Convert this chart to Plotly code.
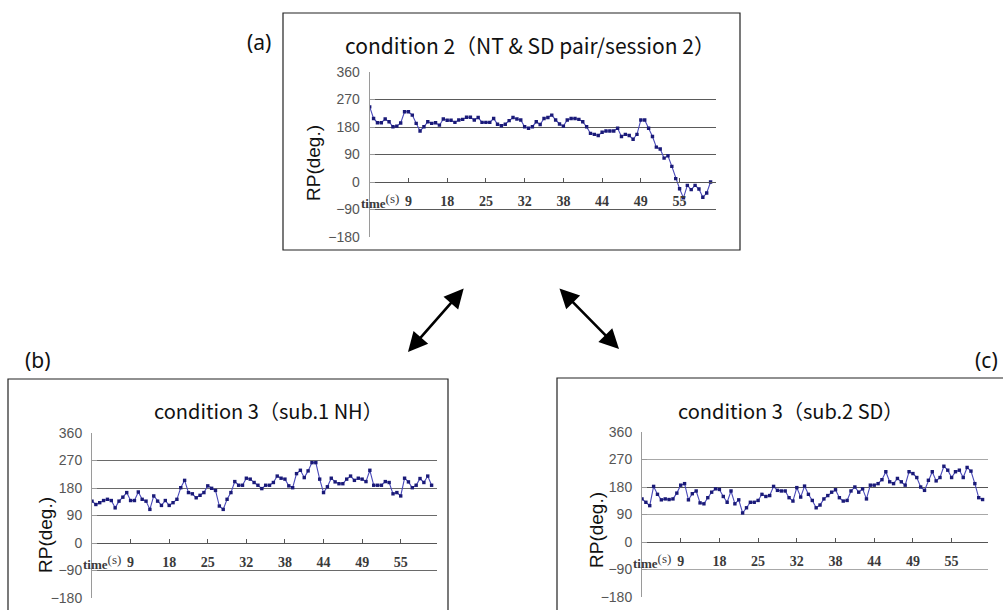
import plotly.graph_objects as go

W, H = 1003, 610

# ---------------- data ----------------
tick_labels = ["9", "18", "25", "32", "38", "44", "49", "55"]
tick_index = [10, 20, 30, 40, 50, 60, 70, 80]

rp_a = [246, 208, 194, 194, 206, 197, 181, 183, 193, 230, 230, 219, 192, 167, 181, 197,
        192, 194, 186, 206, 202, 202, 195, 203, 205, 212, 212, 203, 211, 195, 195, 195,
        208, 189, 184, 189, 201, 211, 206, 203, 181, 176, 181, 197, 188, 208, 211, 219,
        203, 190, 183, 203, 208, 208, 205, 197, 181, 159, 156, 152, 163, 167, 167, 167,
        176, 149, 156, 152, 140, 156, 203, 203, 176, 149, 114, 108, 78, 86, 51, 11,
        -22, -52, -11, -25, -11, -23, -50, -36, 0]

rp_b = [137, 126, 132, 139, 143, 139, 115, 137, 150, 165, 139, 139, 167, 143, 137, 110,
        154, 137, 123, 139, 123, 132, 143, 181, 205, 165, 161, 148, 156, 165, 187, 179,
        172, 121, 110, 143, 165, 201, 189, 189, 212, 209, 198, 189, 178, 189, 189, 198,
        219, 212, 209, 187, 181, 227, 238, 214, 236, 263, 263, 209, 165, 184, 212, 200,
        194, 194, 209, 219, 205, 212, 209, 201, 238, 189, 189, 189, 201, 198, 161, 165,
        154, 212, 200, 181, 189, 211, 198, 219, 189]

rp_c = [141, 130, 119, 182, 156, 138, 141, 139, 141, 160, 186, 191, 138, 158, 167, 128,
        125, 145, 163, 174, 172, 149, 130, 167, 125, 138, 95, 112, 130, 130, 136, 156,
        149, 152, 182, 169, 167, 167, 145, 134, 178, 147, 183, 156, 136, 112, 121, 141,
        152, 163, 171, 145, 134, 136, 167, 180, 163, 174, 141, 186, 186, 191, 204, 230,
        197, 191, 208, 197, 186, 230, 224, 211, 180, 169, 202, 230, 200, 211, 248, 235,
        211, 230, 235, 211, 244, 232, 191, 145, 139]

titles = ["condition 2（NT & SD pair/session 2）",
          "condition 3（sub.1 NH）",
          "condition 3（sub.2 SD）"]
panel_tags = ["(a)", "(b)", "(c)"]
y_ticks = [-180, -90, 0, 90, 180, 270, 360]

# ---------------- layout helpers ----------------
def px(x):
    return x / W

def py(y):
    return 1 - y / H

# plot areas in pixels: (left, right, top(360), bottom(-180))
areas = [(369.7, 716, 72, 237), (92, 437, 433, 598), (642, 988, 432, 597)]
boxes = [(283, 740, 13, 250), (8, 448, 379, 640), (557, 1010, 378, 640)]
title_pos = [(530, 45), (268, 411), (790, 411)]
title_sizes = [21, 20, 20]
tag_pos = [(259, 42), (38, 360), (986, 360)]
rp_label_pos = [(313, 163), (45, 535), (596, 530)]
grid_colors = ["#5a5a5a", "#6a6a6a", "#a8a8a8"]

series = [rp_a, rp_b, rp_c]

fig = go.Figure()
layout = dict(
    width=W, height=H, margin=dict(l=0, r=0, t=0, b=0, pad=0), autosize=False,
    paper_bgcolor="white", plot_bgcolor="rgba(0,0,0,0)", showlegend=False,
)
annotations = []
shapes = []

for i, (vals, area) in enumerate(zip(series, areas)):
    n = i + 1
    xa = "x" if n == 1 else f"x{n}"
    ya = "y" if n == 1 else f"y{n}"
    xkey = "xaxis" if n == 1 else f"xaxis{n}"
    ykey = "yaxis" if n == 1 else f"yaxis{n}"
    l, r, t, b = area
    yd = [py(b), py(t)]
    zero_pos = yd[0] + (0 - (-180)) / 540 * (yd[1] - yd[0])

    fig.add_trace(go.Scatter(
        x=list(range(len(vals))), y=vals, xaxis=xa, yaxis=ya,
        mode="lines+markers",
        line=dict(color="#4848b8", width=1.1),
        marker=dict(color="#1a1a78", size=3.4, symbol="square"),
        hoverinfo="skip",
    ))

    layout[xkey] = dict(
        domain=[px(l), px(r)], range=[0, 89.4], anchor="free", position=zero_pos,
        showline=True, linecolor="#555555", linewidth=1.2,
        showgrid=False, zeroline=False, automargin=False,
        tickmode="array", tickvals=tick_index, ticktext=tick_labels,
        ticks="inside", ticklen=4, tickcolor="#555555",
        ticklabelstandoff=6,
        tickfont=dict(family="Liberation Serif", size=14, color="#3a3a3a", weight="bold"),
        fixedrange=True,
    )
    layout[ykey] = dict(
        domain=yd, range=[-180, 360], anchor=xa,
        showline=True, linecolor="#9a9a9a", linewidth=1,
        showgrid=True, gridcolor=grid_colors[i], gridwidth=1.2,
        zeroline=False, automargin=False,
        tickmode="array", tickvals=y_ticks,
        ticks="inside", ticklen=5, tickcolor="#9a9a9a",
        ticklabelstandoff=6,
        tickfont=dict(family="Liberation Sans", size=14, color="#555555"),
        fixedrange=True,
    )
    if i == 2:
        # darker reference line at 180 in panel (c)
        layout["yaxis4"] = dict(
            domain=yd, range=[-180, 360], anchor=xa, overlaying="y3",
            showgrid=True, gridcolor="#555555", gridwidth=1.2,
            tickmode="array", tickvals=[180], showticklabels=False,
            zeroline=False, showline=False, fixedrange=True, automargin=False,
        )
        fig.add_trace(go.Scatter(x=[], y=[], xaxis="x3", yaxis="y4"))

    # time(s) label at the axis origin
    annotations.append(dict(
        xref="paper", yref="paper", x=px(l - 11), y=zero_pos, yshift=-19,
        xanchor="left", yanchor="middle", showarrow=False,
        text="time<sup><span style='font-size:13px;font-weight:normal'>(s)</span></sup>",
        font=dict(family="Liberation Serif", size=13, color="#3a3a3a", weight="bold"),
    ))
    # RP(deg.) axis title
    rx, ry = rp_label_pos[i]
    annotations.append(dict(
        xref="paper", yref="paper", x=px(rx), y=py(ry), textangle=-90,
        xanchor="center", yanchor="middle",
        showarrow=False, text="RP(deg.)",
        font=dict(family="Liberation Sans", size=19, color="#111111"),
    ))
    # panel title
    tx, ty = title_pos[i]
    annotations.append(dict(
        xref="paper", yref="paper", x=px(tx), y=py(ty), showarrow=False,
        xanchor="center", yanchor="middle",
        text=titles[i], font=dict(family="Noto Sans CJK JP", size=title_sizes[i], color="#111111"),
    ))
    # panel tag
    gx, gy = tag_pos[i]
    annotations.append(dict(
        xref="paper", yref="paper", x=px(gx), y=py(gy), showarrow=False,
        xanchor="center", yanchor="middle",
        text=panel_tags[i], font=dict(family="Noto Sans", size=21, color="#111111"),
    ))
    # panel frame
    bl, br, bt, bb = boxes[i]
    shapes.append(dict(type="rect", xref="paper", yref="paper",
                       x0=px(bl), x1=px(br), y0=py(bb), y1=py(bt),
                       line=dict(color="#222222", width=1.2)))

# double-headed arrows between the panels
arrows = [((465, 287), (408, 352)), ((558, 287), (619, 349))]
for (x1, y1), (x2, y2) in arrows:
    annotations.append(dict(
        xref="paper", yref="paper", x=px(x2), y=py(y2),
        axref="pixel", ayref="pixel", ax=(x1 - x2), ay=(y1 - y2),
        showarrow=True, arrowhead=2, startarrowhead=2, arrowside="end+start",
        arrowsize=1.5, startarrowsize=1.5, arrowwidth=2.6, arrowcolor="#000000",
        text="",
    ))

layout["annotations"] = annotations
layout["shapes"] = shapes
fig.update_layout(**layout)
fig.write_html("out.html", config={"displayModeBar": False},
               post_script="document.body.style.margin='0';")
